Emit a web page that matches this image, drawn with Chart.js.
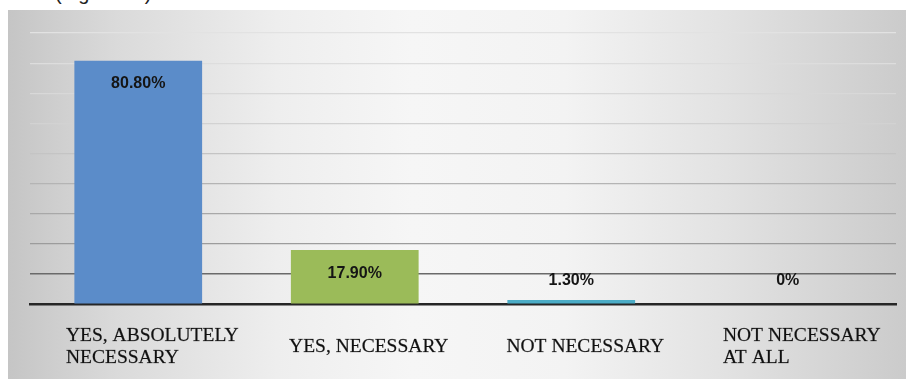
<!DOCTYPE html>
<html>
<head>
<meta charset="utf-8">
<script src="https://cdn.jsdelivr.net/npm/chart.js@4.4.1/dist/chart.umd.min.js"></script>
<style>
  html, body { margin: 0; padding: 0; background: #fff; }
  body { width: 906px; height: 379px; position: relative; overflow: hidden; }
  #fig { position: absolute; left: 55px; top: -17px; font: 20px Arial, "Liberation Sans", sans-serif; line-height: 20px; color: #222; white-space: nowrap; }
  #panel {
    position: absolute; left: 8px; top: 10px; width: 898px; height: 369px;
    background: linear-gradient(to right, #c5c5c5 0%, #dadada 12%, #eeeeee 30%, #f6f6f6 45%, #f3f3f3 62%, #e2e2e2 80%, #cbcbcb 100%);
  }
  canvas { display: block; }
</style>
</head>
<body>
<div id="fig">(Figure 11)</div>
<div id="panel"><canvas id="chart" width="898" height="369"></canvas></div>
<script>
// data
const categories = [['YES, ABSOLUTELY', 'NECESSARY'], ['YES, NECESSARY'], ['NOT NECESSARY'], ['NOT NECESSARY', 'AT ALL']];
const values = [80.8, 17.9, 1.3, 0];
const valueLabels = ['80.80%', '17.90%', '1.30%', '0%'];
const barColors = ['#5b8cc9', '#9bbb59', '#4bacc6', '#f79646'];
const yMax = 90;
const yStep = 10;

// gridlines get darker towards the bottom, like the original
const gridColors = ['rgba(0,0,0,0)', '#6a6a6a', '#9c9c9c', '#a8a8a8', '#b4b4b4', '#c4c4c4', '#d2d2d2', '#d8d8d8', '#dddddd', '#e2e2e2'];

// value label inside the top of the bar, or just above the axis for short bars
const valueLabelPlugin = {
    id: 'valueLabels',
    afterDatasetsDraw(chart) {
        const ctx = chart.ctx;
        const meta = chart.getDatasetMeta(0);
        ctx.save();
        ctx.font = 'bold 16px "Liberation Sans", Arial, sans-serif';
        ctx.fillStyle = '#151515';
        ctx.textAlign = 'center';
        ctx.textBaseline = 'middle';
        meta.data.forEach((bar, i) => {
            const y = Math.min(bar.y + 23, bar.base - 23);
            ctx.fillText(valueLabels[i], bar.x, y);
        });
        ctx.restore();
    }
};

// category labels: serif, lines left-aligned inside a centred block
const categoryLabelPlugin = {
    id: 'categoryLabels',
    afterDraw(chart) {
        const ctx = chart.ctx;
        const xScale = chart.scales.x;
        const lineH = 22;
        const midY = 337;
        ctx.save();
        ctx.font = '19.5px "Liberation Serif", "Times New Roman", serif';
        ctx.fillStyle = '#111';
        ctx.strokeStyle = 'rgba(17,17,17,0.5)';
        ctx.lineWidth = 0.4;
        ctx.textAlign = 'left';
        ctx.textBaseline = 'middle';
        categories.forEach((lines, i) => {
            const cx = xScale.getPixelForValue(i) + 14;
            const w = Math.max(...lines.map(l => ctx.measureText(l).width));
            const top = midY - (lines.length - 1) * lineH / 2;
            lines.forEach((l, j) => {
                ctx.fillText(l, cx - w / 2, top + j * lineH);
                ctx.strokeText(l, cx - w / 2, top + j * lineH);
            });
        });
        ctx.restore();
    }
};

new Chart(document.getElementById('chart'), {
    type: 'bar',
    data: {
        labels: categories.map(c => c.join(' ')),
        datasets: [{
            data: values,
            backgroundColor: barColors,
            borderWidth: 0,
            barPercentage: 0.59,
            categoryPercentage: 1
        }]
    },
    options: {
        responsive: false,
        animation: false,
        devicePixelRatio: 1,
        layout: { padding: { left: 22, right: 10, top: 23, bottom: 75 } },
        plugins: { legend: { display: false }, tooltip: { enabled: false } },
        scales: {
            x: {
                z: 1,
                grid: { display: false, drawTicks: false },
                ticks: { display: false },
                border: { display: true, color: '#262626', width: 2.5 }
            },
            y: {
                min: 0,
                max: yMax,
                ticks: { display: false, stepSize: yStep },
                border: { display: false },
                grid: {
                    drawTicks: false,
                    color: (c) => gridColors[c.index] || '#e2e2e2',
                    lineWidth: (c) => (c.index === 1 ? 1.6 : 1.2)
                }
            }
        }
    },
    plugins: [valueLabelPlugin, categoryLabelPlugin]
});
</script>
</body>
</html>
